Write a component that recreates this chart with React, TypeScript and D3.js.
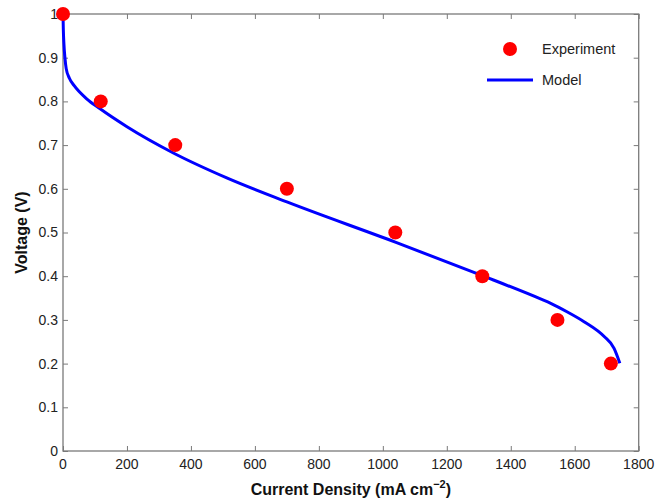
import React, { useRef, useEffect } from "react";
import * as d3 from "d3";

// experiment points (mA cm^-2, V)
const expCurrent = [0, 118, 351, 700, 1039, 1311, 1546, 1713];
const expVoltage = [1.0, 0.8, 0.7, 0.6, 0.5, 0.4, 0.3, 0.2];

// model curve
const modelCurrent = [0, 1, 3, 6, 10, 20, 35, 74, 116, 200, 345, 512, 700, 1039, 1305, 1493, 1525, 1580, 1629, 1692, 1723, 1741];
const modelVoltage = [1.0, 0.965, 0.93, 0.9, 0.875, 0.853, 0.836, 0.806, 0.783, 0.742, 0.682, 0.625, 0.57, 0.478, 0.403, 0.348, 0.338, 0.317, 0.296, 0.262, 0.235, 0.201];

const xTicks = [0, 200, 400, 600, 800, 1000, 1200, 1400, 1600, 1800];
const yTicks = [0, 0.1, 0.2, 0.3, 0.4, 0.5, 0.6, 0.7, 0.8, 0.9, 1];

const App = () => {
  const svgRef = useRef<SVGSVGElement>(null);

  useEffect(() => {
    const width = 670;
    const height = 503;
    const margin = { top: 14, right: 670 - 638.7, bottom: 503 - 451, left: 63 };
    const innerWidth = width - margin.left - margin.right;
    const innerHeight = height - margin.top - margin.bottom;

    const svg = d3.select(svgRef.current);
    svg.selectAll("*").remove();
    svg.attr("width", width).attr("height", height);

    const chart = svg
      .append("g")
      .attr("transform", `translate(${margin.left}, ${margin.top})`);

    const x = d3.scaleLinear().domain([0, 1800]).range([0, innerWidth]);
    const y = d3.scaleLinear().domain([0, 1]).range([innerHeight, 0]);

    const axisColor = "#7a7a7a";
    const font = "Liberation Sans, Arial, sans-serif";
    const tickLen = 5;

    // inward ticks on all four sides
    const styleAxis = (g) => {
      g.select(".domain").remove();
      g.selectAll("line").attr("stroke", axisColor).attr("stroke-width", 1);
    };

    chart
      .append("g")
      .attr("transform", `translate(0, ${innerHeight})`)
      .call(d3.axisTop(x).tickValues(xTicks).tickSize(tickLen).tickFormat(""))
      .call(styleAxis);
    chart
      .append("g")
      .call(d3.axisBottom(x).tickValues(xTicks).tickSize(tickLen).tickFormat(""))
      .call(styleAxis);
    chart
      .append("g")
      .call(d3.axisRight(y).tickValues(yTicks).tickSize(tickLen).tickFormat(""))
      .call(styleAxis);
    chart
      .append("g")
      .attr("transform", `translate(${innerWidth}, 0)`)
      .call(d3.axisLeft(y).tickValues(yTicks).tickSize(tickLen).tickFormat(""))
      .call(styleAxis);

    // tick labels
    chart
      .append("g")
      .selectAll("text")
      .data(xTicks)
      .enter()
      .append("text")
      .attr("x", (d) => x(d))
      .attr("y", innerHeight + 18)
      .attr("text-anchor", "middle")
      .attr("font-family", font)
      .attr("font-size", 14)
      .attr("fill", "#222")
      .text((d) => d);
    chart
      .append("g")
      .selectAll("text")
      .data(yTicks)
      .enter()
      .append("text")
      .attr("x", -5)
      .attr("y", (d) => y(d))
      .attr("dy", "0.35em")
      .attr("text-anchor", "end")
      .attr("font-family", font)
      .attr("font-size", 14)
      .attr("fill", "#222")
      .text((d) => d3.format("~g")(d));

    // box
    chart
      .append("rect")
      .attr("width", innerWidth)
      .attr("height", innerHeight)
      .attr("fill", "none")
      .attr("stroke", axisColor)
      .attr("stroke-width", 1.3);

    // model line
    const modelData = modelCurrent.map((c, i) => [c, modelVoltage[i]]);
    const line = d3
      .line()
      .x((d) => x(d[0]))
      .y((d) => y(d[1]))
      .curve(d3.curveMonotoneX);
    chart
      .append("path")
      .datum(modelData)
      .attr("d", line)
      .attr("fill", "none")
      .attr("stroke", "#0000ff")
      .attr("stroke-width", 3);

    // experiment dots
    chart
      .selectAll("circle.exp")
      .data(expCurrent.map((c, i) => [c, expVoltage[i]]))
      .enter()
      .append("circle")
      .attr("class", "exp")
      .attr("cx", (d) => x(d[0]))
      .attr("cy", (d) => y(d[1]))
      .attr("r", 7)
      .attr("fill", "#ff0000");

    // legend
    const legend = svg.append("g");
    legend.append("circle").attr("cx", 510).attr("cy", 49).attr("r", 7).attr("fill", "#ff0000");
    legend
      .append("text")
      .attr("x", 542)
      .attr("y", 54)
      .attr("font-family", font)
      .attr("font-size", 14.5)
      .attr("fill", "#222")
      .text("Experiment");
    legend
      .append("line")
      .attr("x1", 487)
      .attr("x2", 533)
      .attr("y1", 80)
      .attr("y2", 80)
      .attr("stroke", "#0000ff")
      .attr("stroke-width", 3);
    legend
      .append("text")
      .attr("x", 542)
      .attr("y", 85)
      .attr("font-family", font)
      .attr("font-size", 14.5)
      .attr("fill", "#222")
      .text("Model");

    // axis titles
    const xLabel = svg
      .append("text")
      .attr("x", margin.left + innerWidth / 2)
      .attr("y", 495)
      .attr("text-anchor", "middle")
      .attr("font-family", font)
      .attr("font-size", 16)
      .attr("font-weight", "bold")
      .attr("fill", "#111");
    xLabel.append("tspan").text("Current Density (mA cm");
    xLabel.append("tspan").attr("dy", -7).attr("font-size", 11).text("\u22122");
    xLabel.append("tspan").attr("dy", 7).text(")");

    svg
      .append("text")
      .attr("transform", `translate(27, ${margin.top + innerHeight / 2}) rotate(-90)`)
      .attr("text-anchor", "middle")
      .attr("font-family", font)
      .attr("font-size", 16)
      .attr("font-weight", "bold")
      .attr("fill", "#111")
      .text("Voltage (V)");
  }, []);

  return (
    <svg
      ref={svgRef}
      style={{ position: "absolute", left: 0, top: 0, background: "#fff" }}
    ></svg>
  );
};

export default App;
